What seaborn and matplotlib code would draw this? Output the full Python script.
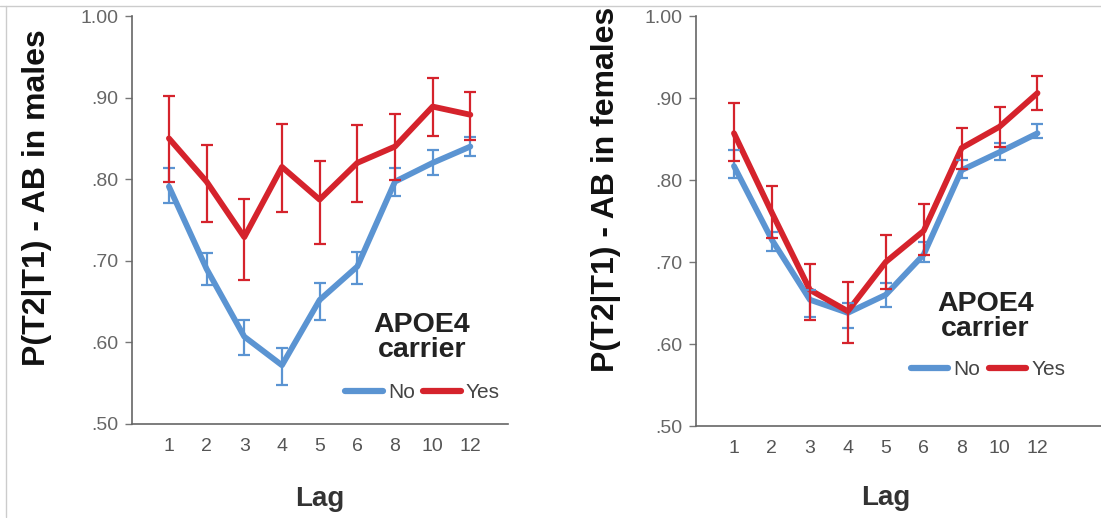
import numpy as np
import pandas as pd
import matplotlib
matplotlib.use("Agg")
import matplotlib.pyplot as plt
from matplotlib.lines import Line2D
import seaborn as sns

# data
lags = ["1", "2", "3", "4", "5", "6", "8", "10", "12"]

male_no = [0.791, 0.690, 0.607, 0.572, 0.652, 0.693, 0.797, 0.820, 0.840]
male_no_lo = [0.771, 0.670, 0.585, 0.548, 0.628, 0.672, 0.780, 0.805, 0.828]
male_no_hi = [0.814, 0.710, 0.628, 0.593, 0.673, 0.711, 0.814, 0.836, 0.852]
male_yes = [0.850, 0.797, 0.729, 0.815, 0.775, 0.820, 0.840, 0.889, 0.879]
male_yes_lo = [0.797, 0.748, 0.677, 0.760, 0.720, 0.772, 0.799, 0.853, 0.848]
male_yes_hi = [0.902, 0.842, 0.776, 0.868, 0.822, 0.867, 0.880, 0.924, 0.907]

female_no = [0.817, 0.727, 0.654, 0.638, 0.660, 0.709, 0.812, 0.834, 0.857]
female_no_lo = [0.803, 0.713, 0.633, 0.620, 0.645, 0.700, 0.802, 0.824, 0.851]
female_no_hi = [0.837, 0.737, 0.666, 0.650, 0.674, 0.724, 0.824, 0.845, 0.868]
female_yes = [0.857, 0.760, 0.666, 0.640, 0.700, 0.738, 0.839, 0.865, 0.906]
female_yes_lo = [0.823, 0.729, 0.629, 0.601, 0.667, 0.709, 0.813, 0.840, 0.885]
female_yes_hi = [0.894, 0.793, 0.698, 0.676, 0.733, 0.771, 0.863, 0.889, 0.927]

y_ticks = [0.5, 0.6, 0.7, 0.8, 0.9, 1.0]
y_ticklabels = [".50", ".60", ".70", ".80", ".90", "1.00"]

colors = {"No": "#5b94d2", "Yes": "#d5232c"}

sns.set_style("white")
plt.rcParams["font.family"] = ["Liberation Sans", "DejaVu Sans"]

fig = plt.figure(figsize=(11.01, 5.18), dpi=100)
ax1 = fig.add_axes([0.1199, 0.1815, 0.3415, 0.7876])
ax2 = fig.add_axes([0.6322, 0.1776, 0.368, 0.7915])


def build(no, no_lo, no_hi, yes, yes_lo, yes_hi):
    pos = np.arange(len(lags))
    df = pd.DataFrame({
        "pos": np.concatenate([pos, pos]),
        "P": no + yes,
        "lo": no_lo + yes_lo,
        "hi": no_hi + yes_hi,
        "carrier": ["No"] * len(lags) + ["Yes"] * len(lags),
    })
    return df


def draw(ax, df, ylabel, xlim, ylab_pos, xlab_pos, title_pos, leg_pos):
    for c in ["No", "Yes"]:
        d = df[df["carrier"] == c]
        sns.lineplot(data=d, x="pos", y="P", color=colors[c], lw=4.2,
                     ax=ax, legend=False, sort=False, zorder=3)
        ax.errorbar(d["pos"], d["P"],
                    yerr=[d["P"] - d["lo"], d["hi"] - d["P"]],
                    fmt="none", ecolor=colors[c], elinewidth=1.6,
                    capsize=4.5, capthick=1.6, zorder=4)
    ax.set_xlim(*xlim)
    ax.set_ylim(0.5, 1.0)
    ax.set_xticks(np.arange(len(lags)))
    ax.set_xticklabels(lags)
    ax.set_yticks(y_ticks)
    ax.set_yticklabels(y_ticklabels)
    ax.tick_params(axis="x", length=0, pad=10, labelsize=14, labelcolor="#555555")
    ax.tick_params(axis="y", length=5, width=1, color="#777777", pad=5,
                   labelsize=14, labelcolor="#666666", left=True)
    for s in ["top", "right"]:
        ax.spines[s].set_visible(False)
    for s in ["left", "bottom"]:
        ax.spines[s].set_color("#666666")
        ax.spines[s].set_linewidth(1.2)
    ax.set_ylabel(ylabel, fontsize=23, fontweight="bold", color="#111111")
    ax.yaxis.set_label_coords(*ylab_pos)
    ax.set_xlabel("Lag", fontsize=20, fontweight="bold", color="#333333")
    ax.xaxis.set_label_coords(*xlab_pos)

    ax.text(title_pos[0], title_pos[1], "APOE4\ncarrier", transform=ax.transAxes,
            ha="center", va="center", multialignment="center", fontsize=20.5,
            fontweight="bold", color="#222222", linespacing=0.95)
    handles = [Line2D([], [], color=colors[c], lw=4.5) for c in ["No", "Yes"]]
    leg = ax.legend(handles, ["No", "Yes"], ncol=2, frameon=False,
                    loc="center", bbox_to_anchor=leg_pos, fontsize=15,
                    handlelength=1.8, handletextpad=0.25, columnspacing=0.4,
                    borderpad=0.0)
    for t in leg.get_texts():
        t.set_color("#444444")


draw(ax1, build(male_no, male_no_lo, male_no_hi, male_yes, male_yes_lo, male_yes_hi),
     "P(T2|T1) - AB in males", (-0.98, 9.0), (-0.213, 0.554), (0.5, -0.152),
     (0.771, 0.213), (0.773, 0.076))
draw(ax2, build(female_no, female_no_lo, female_no_hi, female_yes, female_yes_lo, female_yes_hi),
     "P(T2|T1) - AB in females", (-1.0, 9.68), (-0.185, 0.576), (0.467, -0.144),
     (0.714, 0.268), (0.721, 0.137))

# thin frame lines from the original screenshot
fig.add_artist(Line2D([0, 1], [1 - 6 / 518, 1 - 6 / 518], color="#cccccc", lw=1))
fig.add_artist(Line2D([6 / 1101, 6 / 1101], [1 / 518, 1 - 6 / 518], color="#cccccc", lw=1))

fig.savefig("out.png", dpi=100)
